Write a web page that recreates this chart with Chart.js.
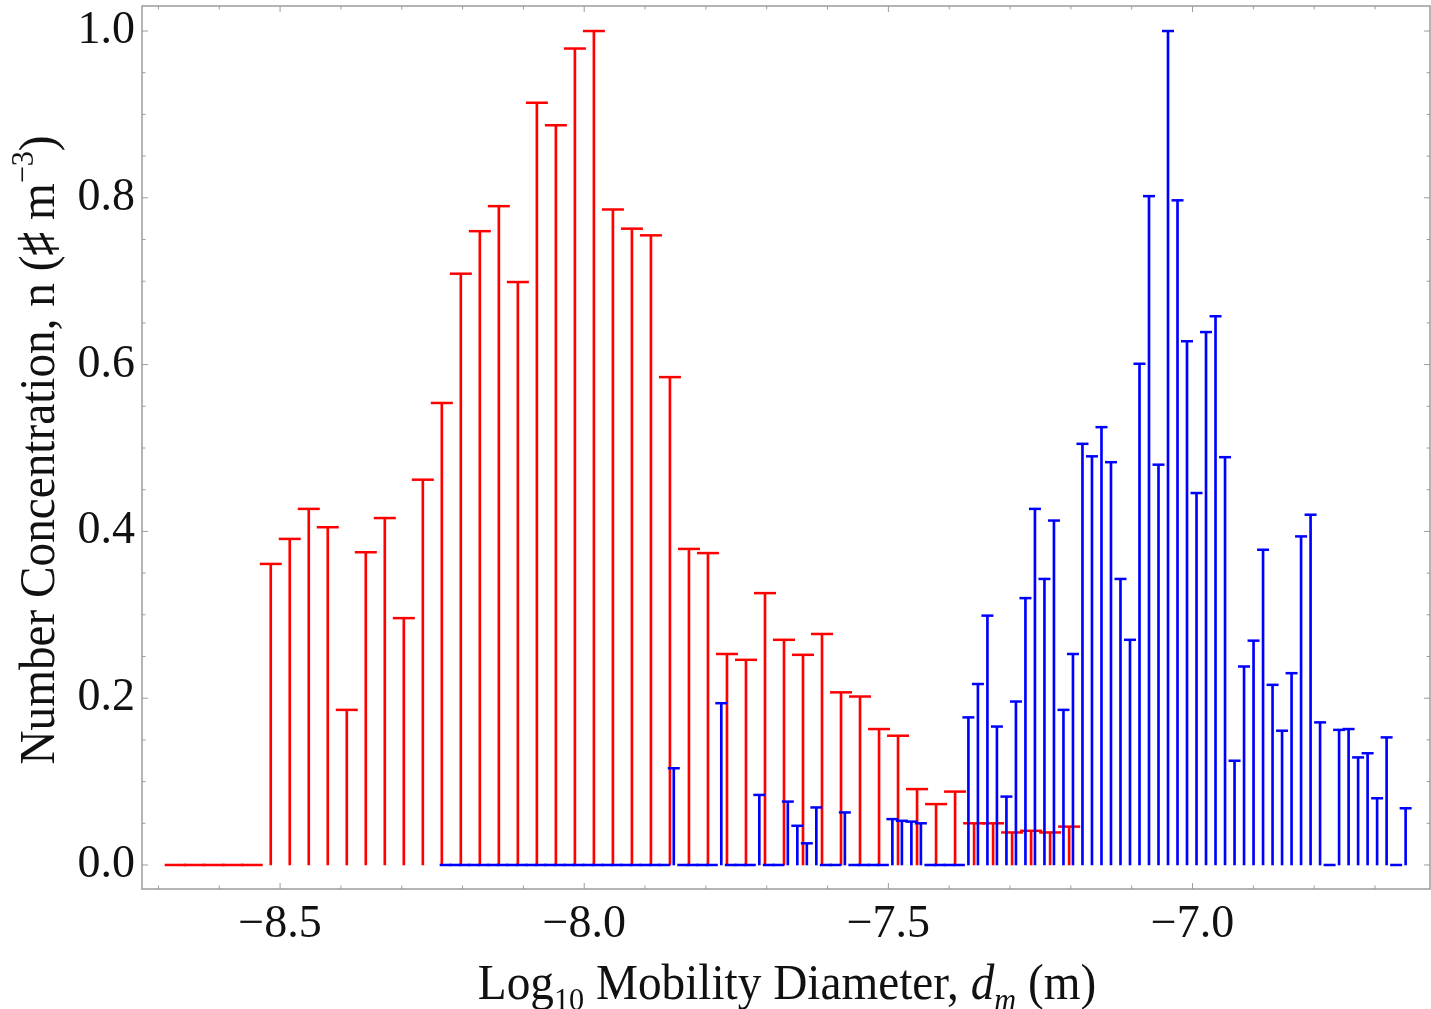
<!doctype html>
<html>

<head>
	<title>Number Concentration vs Mobility Diameter</title>
	<script src="https://cdn.jsdelivr.net/npm/chart.js@4.4.1/dist/chart.umd.min.js"></script>
	<style>
	body {
		margin: 0;
		background: #fff;
	}
	#container {
		width: 1431px;
		height: 1009px;
	}
	</style>
</head>

<body>
	<div id="container">
		<canvas id="canvas"></canvas>
	</div>
	<script>
		// red series: 32 bins per decade, first bin centre (log10 m)
		var redStart = -8.6716;
		var redStep = 1 / 32;
		var redValues = [
			0, 0, 0, 0, 0,
			0.361, 0.391, 0.427, 0.405, 0.186, 0.375, 0.416, 0.296, 0.462, 0.554,
			0.709, 0.760, 0.790, 0.699, 0.914, 0.887, 0.979, 1.000, 0.786, 0.763,
			0.755, 0.585, 0.379, 0.374, 0.253, 0.246, 0.326, 0.270, 0.252, 0.277,
			0.207, 0.202, 0.163, 0.155, 0.091, 0.073, 0.088, 0.050, 0.050, 0.039,
			0.041, 0.039, 0.046
		];

		// blue series: 64 bins per decade
		var blueStart = -8.2278;
		var blueStep = 1 / 64;
		var blueValues = [
			0, 0, 0, 0, 0, 0, 0, 0, 0, 0, 0, 0,
			0, 0, 0, 0, 0, 0, 0, 0, 0, 0, 0, 0,
			0.116, 0, 0, 0, 0, 0.194, 0, 0, 0, 0.084, 0, 0,
			0.076, 0.047, 0.026, 0.069, 0, 0, 0.063, 0, 0, 0, 0,
			0.055, 0.053, 0.052, 0.050, 0, 0, 0, 0,
			0.177, 0.217, 0.299, 0.166, 0.082, 0.196, 0.320, 0.427, 0.343, 0.413,
			0.186, 0.253, 0.505, 0.490, 0.525, 0.483, 0.343, 0.270, 0.601, 0.802,
			0.480, 1.000, 0.797, 0.628, 0.446, 0.639, 0.658, 0.489, 0.125, 0.238,
			0.269, 0.378, 0.216, 0.161, 0.230, 0.394, 0.420, 0.171, 0, 0.162,
			0.163, 0.129, 0.134, 0.080, 0.153, 0, 0.068
		];

		var xTicks = [-8.5, -8.0, -7.5, -7.0];
		var yTicks = [0, 0.2, 0.4, 0.6, 0.8, 1.0];
		var xMinorStep = 0.1;
		var yMinorStep = 0.05;

		var RED = '#ff0000';
		var BLUE = '#0000ff';
		var SERIF = "'Liberation Serif', 'DejaVu Serif', serif";

		function toPoints(start, step, values) {
			return values.map(function(v, i) {
				return {x: start + i * step, y: v};
			});
		}

		var redPts = toPoints(redStart, redStep, redValues);
		var bluePts = toPoints(blueStart, blueStep, blueValues);

		function fmt(v) {
			return (v < 0 ? '\u2212' : '') + Math.abs(v).toFixed(1);
		}

		// text with sub/superscripts, drawn centred on (cx, cy) baseline
		function drawRich(ctx, parts, size, cx, cy, angle, sx) {
			ctx.save();
			ctx.translate(cx, cy);
			ctx.rotate(angle);
			ctx.scale(sx, 1);
			ctx.fillStyle = '#111';
			ctx.textBaseline = 'alphabetic';
			ctx.textAlign = 'left';
			var fontOf = function(p) {
				var s = (p.sub || p.sup) ? size * 0.64 : size;
				return (p.italic ? 'italic ' : '') + s + 'px ' + SERIF;
			};
			var total = 0;
			parts.forEach(function(p) {
				ctx.font = fontOf(p);
				p.w = ctx.measureText(p.t).width;
				total += p.w;
			});
			var x = -total / 2;
			parts.forEach(function(p) {
				ctx.font = fontOf(p);
				var dy = p.sub ? size * 0.22 : (p.sup ? -size * 0.42 : 0);
				ctx.fillText(p.t, x, dy);
				x += p.w;
			});
			ctx.restore();
		}

		var framePlugin = {
			id: 'frame',
			afterDatasetsDraw: function(chart) {
				var ctx = chart.ctx;
				var a = chart.chartArea;
				var xs = chart.scales.x;
				var ys = chart.scales.y;
				ctx.save();
				ctx.strokeStyle = '#9c9c9c';
				ctx.lineWidth = 1.5;
				ctx.strokeRect(a.left, a.top, a.right - a.left, a.bottom - a.top);
				ctx.lineWidth = 1;
				ctx.beginPath();
				var k, v, p, len;
				for (k = Math.ceil(xs.min / xMinorStep); k * xMinorStep <= xs.max; k++) {
					v = k * xMinorStep;
					p = xs.getPixelForValue(v);
					len = Math.abs(v * 2 - Math.round(v * 2)) < 1e-6 ? 6 : 3.5;
					ctx.moveTo(p, a.bottom);
					ctx.lineTo(p, a.bottom - len);
					ctx.moveTo(p, a.top);
					ctx.lineTo(p, a.top + len);
				}
				for (k = Math.ceil(ys.min / yMinorStep); k * yMinorStep <= ys.max; k++) {
					v = k * yMinorStep;
					p = ys.getPixelForValue(v);
					len = Math.abs(v * 5 - Math.round(v * 5)) < 1e-6 ? 6 : 3.5;
					ctx.moveTo(a.left, p);
					ctx.lineTo(a.left + len, p);
					ctx.moveTo(a.right, p);
					ctx.lineTo(a.right - len, p);
				}
				ctx.stroke();
				ctx.restore();
			},
			afterDraw: function(chart) {
				var ctx = chart.ctx;
				drawRich(ctx, [
					{t: 'Log'}, {t: '10', sub: true}, {t: ' Mobility Diameter, '},
					{t: 'd', italic: true}, {t: 'm', italic: true, sub: true}, {t: ' (m)'}
				], 50, 787, 999, 0, 0.945);
				drawRich(ctx, [
					{t: 'Number Concentration, n (\u266F m'}, {t: '\u22123', sup: true}, {t: ')'}
				], 50, 54, 450, -Math.PI / 2, 0.945);
			}
		};

		window.onload = function() {
			var ctx = document.getElementById('canvas').getContext('2d');
			window.myChart = new Chart(ctx, {
				type: 'bar',
				data: {
					datasets: [{
						type: 'scatter',
						data: bluePts,
						pointStyle: 'line',
						pointRadius: 6,
						pointHoverRadius: 6,
						pointBorderWidth: 2.5,
						pointHoverBorderWidth: 2.5,
						pointBorderColor: BLUE,
						order: 0
					}, {
						type: 'bar',
						data: bluePts,
						backgroundColor: BLUE,
						barThickness: 2,
						grouped: false,
						order: 1
					}, {
						type: 'scatter',
						data: redPts,
						pointStyle: 'line',
						pointRadius: 11,
						pointHoverRadius: 11,
						pointBorderWidth: 2.5,
						pointHoverBorderWidth: 2.5,
						pointBorderColor: RED,
						order: 2
					}, {
						type: 'bar',
						data: redPts,
						backgroundColor: RED,
						barThickness: 2,
						grouped: false,
						order: 3
					}]
				},
				options: {
					responsive: true,
					maintainAspectRatio: false,
					animation: false,
					events: [],
					layout: {
						autoPadding: false,
						padding: {top: 6, right: 1, left: 0, bottom: 0}
					},
					plugins: {
						legend: {display: false},
						tooltip: {enabled: false}
					},
					scales: {
						x: {
							type: 'linear',
							min: -8.727,
							max: -6.6096,
							offset: false,
							grid: {display: false, drawTicks: false, offset: false},
							border: {display: false},
							afterBuildTicks: function(scale) {
								scale.ticks = xTicks.map(function(v) { return {value: v}; });
							},
							afterFit: function(scale) {
								scale.height = 120;
								scale.paddingLeft = 0;
								scale.paddingRight = 0;
							},
							ticks: {
								autoSkip: false,
								maxRotation: 0,
								padding: 8,
								color: '#111',
								font: {family: SERIF, size: 46},
								callback: function(v) { return fmt(v); }
							}
						},
						y: {
							type: 'linear',
							min: -0.0288,
							max: 1.030,
							grid: {display: false, drawTicks: false},
							border: {display: false},
							afterBuildTicks: function(scale) {
								scale.ticks = yTicks.map(function(v) { return {value: v}; });
							},
							afterFit: function(scale) {
								scale.width = 142;
								scale.paddingTop = 0;
								scale.paddingBottom = 0;
							},
							ticks: {
								padding: 7,
								color: '#111',
								font: {family: SERIF, size: 46},
								callback: function(v) { return v.toFixed(1); }
							}
						}
					}
				},
				plugins: [framePlugin]
			});
		};
	</script>
</body>
</html>
